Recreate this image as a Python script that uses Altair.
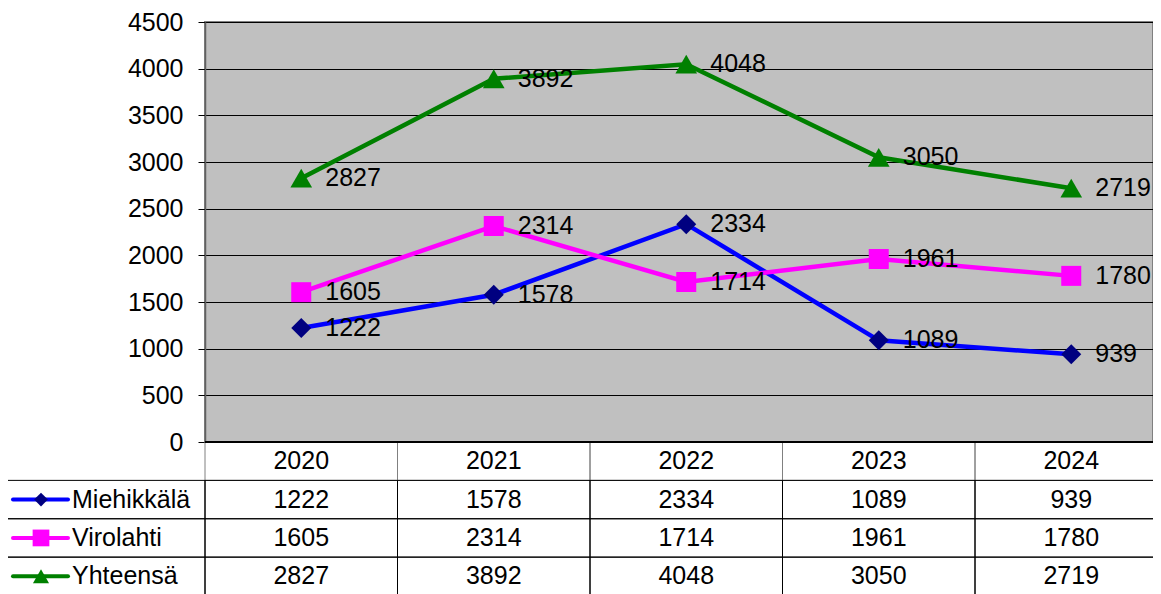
import altair as alt
import pandas as pd

# ---- data ----
years = ["2020", "2021", "2022", "2023", "2024"]
series_names = ["Miehikkälä", "Virolahti", "Yhteensä"]
miehikkala = [1222, 1578, 2334, 1089, 939]
virolahti = [1605, 2314, 1714, 1961, 1780]
yhteensa = [2827, 3892, 4048, 3050, 2719]
y_ticks = [0, 500, 1000, 1500, 2000, 2500, 3000, 3500, 4000, 4500]

# ---- styles ----
line_colors = ["#0000FF", "#FF00FF", "#008000"]
marker_colors = ["#000080", "#FF00FF", "#008000"]
shapes = ["diamond", "square", "triangle-up"]
plot_marker_size = {"Miehikkälä": 400, "Virolahti": 400, "Yhteensä": 470}
legend_marker_size = {"Miehikkälä": 190, "Virolahti": 280, "Yhteensä": 260}
FONT = "Liberation Sans"
FS = 25

values = {"Miehikkälä": miehikkala, "Virolahti": virolahti, "Yhteensä": yhteensa}
rows = ["header"] + series_names

df = pd.DataFrame([
    {"series": s, "year": y, "value": v, "label": str(v), "row": s,
     "msize": plot_marker_size[s]}
    for s in series_names for y, v in zip(years, values[s])
])
header_df = pd.DataFrame({"year": years, "row": ["header"] * len(years), "label": years})
legend_df = pd.DataFrame({
    "series": series_names, "row": series_names,
    "msize": [legend_marker_size[s] for s in series_names],
})

x_scale = alt.Scale(type="band", domain=years, range=[0, 962.5], paddingInner=0, paddingOuter=0)
y_scale = alt.Scale(domain=[0, 4500], nice=False, zero=True)
row_scale = alt.Scale(type="band", domain=rows, range=[420, 573.5], paddingInner=0, paddingOuter=0)
stroke_scale = alt.Scale(domain=series_names, range=line_colors)
fill_scale = alt.Scale(domain=series_names, range=marker_colors)
shape_scale = alt.Scale(domain=series_names, range=shapes)

X = alt.X("year:N", scale=x_scale, axis=None, bandPosition=0.5)
Xr = alt.X("year:N", scale=x_scale, axis=None)
Yv = alt.Y("value:Q", scale=y_scale, axis=None)
Yrow = alt.Y("row:N", scale=row_scale, axis=None, bandPosition=0.5)
Yrow_rect = alt.Y("row:N", scale=row_scale, axis=None)

y_axis = alt.Axis(values=y_ticks, format="d", grid=True, gridColor="black", gridWidth=1,
                  tickSize=7, tickColor="black", tickWidth=1,
                  domainColor="#606060", domainWidth=1.5,
                  labelFont=FONT, labelFontSize=FS, labelColor="black",
                  labelPadding=15, title=None)

base = alt.Chart(df)

lines = base.mark_line(strokeWidth=4.5).encode(
    x=X, y=alt.Y("value:Q", scale=y_scale, axis=y_axis),
    stroke=alt.Stroke("series:N", scale=stroke_scale, legend=None),
)
points = base.mark_point(filled=True, opacity=1, strokeWidth=0).encode(
    x=X, y=Yv,
    fill=alt.Fill("series:N", scale=fill_scale, legend=None),
    shape=alt.Shape("series:N", scale=shape_scale, legend=None),
    size=alt.Size("msize:Q", scale=None),
)
labels = base.mark_text(align="left", baseline="middle", dx=24, font=FONT,
                        fontSize=FS, color="black").encode(x=X, y=Yv, text="label:N")

header_cells = alt.Chart(header_df).mark_rect(fill="transparent", stroke="#808080", strokeWidth=1).encode(
    x=Xr, y=Yrow_rect)
data_cells = base.mark_rect(fill="transparent", stroke="black", strokeWidth=1).encode(
    x=Xr, y=Yrow_rect)
header_text = alt.Chart(header_df).mark_text(font=FONT, fontSize=FS, color="black", baseline="middle").encode(
    x=X, y=Yrow, text="label:N")
value_text = base.mark_text(font=FONT, fontSize=FS, color="black", baseline="middle").encode(
    x=X, y=Yrow, text="label:N")

bottom_line = alt.Chart(header_df).mark_rule(color="black", strokeWidth=1.5).encode(
    x=alt.value(0), x2=alt.value(962), y=alt.value(420))

legend_cells = alt.Chart(legend_df).mark_rect(fill="transparent", stroke="black", strokeWidth=1).encode(
    x=alt.value(-198), x2=alt.value(0), y=Yrow_rect)
legend_lines = alt.Chart(legend_df).mark_rule(strokeWidth=4, strokeCap="round").encode(
    x=alt.value(-192), x2=alt.value(-137), y=Yrow,
    stroke=alt.Stroke("series:N", scale=stroke_scale, legend=None))
legend_points = alt.Chart(legend_df).mark_point(filled=True, opacity=1, strokeWidth=0).encode(
    x=alt.value(-164), y=Yrow,
    fill=alt.Fill("series:N", scale=fill_scale, legend=None),
    shape=alt.Shape("series:N", scale=shape_scale, legend=None),
    size=alt.Size("msize:Q", scale=None))
legend_text = alt.Chart(legend_df).mark_text(align="left", baseline="middle", font=FONT,
                                             fontSize=FS, color="black").encode(
    x=alt.value(-133), y=Yrow, text="series:N")

chart = alt.layer(
    lines, points, labels,
    header_cells, data_cells, header_text, value_text, bottom_line,
    legend_cells, legend_lines, legend_points, legend_text,
).resolve_scale(y="independent").properties(
    width=948, height=420,
    padding={"left": 197, "top": 14, "right": 0, "bottom": 152},
    autosize=alt.AutoSizeParams(type="none"),
    background="white",
).configure_view(fill="#C0C0C0", stroke="#808080", strokeWidth=2)

chart.save("out.html", embed_options={"renderer": "svg", "actions": False})
